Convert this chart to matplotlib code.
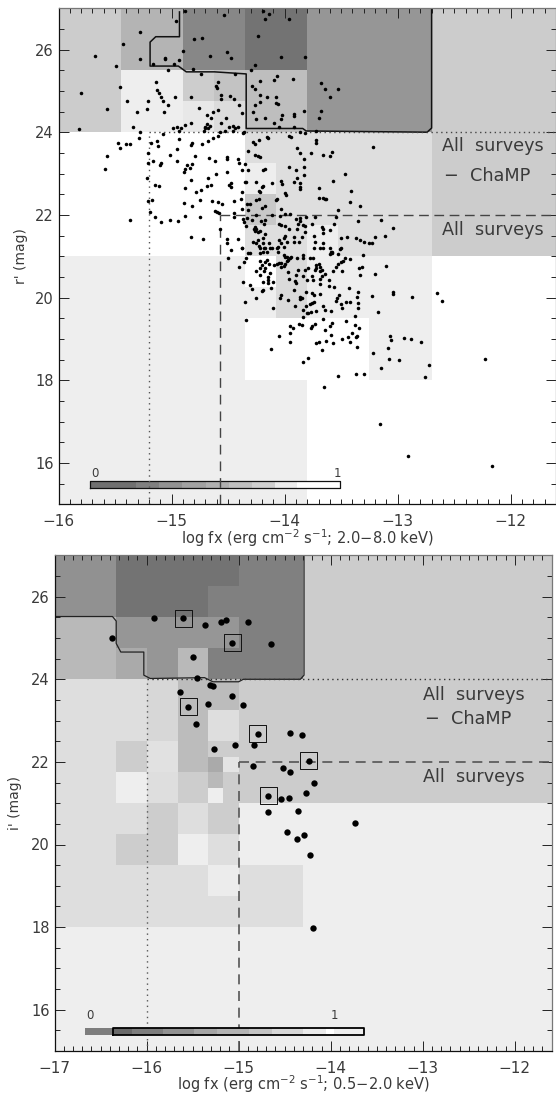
import numpy as np
import matplotlib
matplotlib.use('Agg')
import matplotlib.pyplot as plt
from matplotlib.ticker import MultipleLocator, FixedFormatter, FuncFormatter

plt.rcParams['font.family'] = ['DejaVu Sans']
plt.rcParams['mathtext.default'] = 'regular'
TXT = '#3a3a3a'

# ---------- top panel data ----------
top_xedges = [-16, -15.45, -14.9, -14.625, -14.35, -14.075, -13.8, -13.525, -13.25, -12.7, -11.6]
top_yedges = [15, 18, 19.5, 20.25, 21, 21.75, 22.5, 23.25, 24, 24.75, 25.5, 27]
top_grays = [
    [238, 238, 238, 238, 238, 238, 255, 255, 255, 255],
    [238, 238, 238, 238, 255, 255, 255, 255, 238, 255],
    [238, 238, 238, 238, 238, 218, 238, 238, 238, 255],
    [238, 238, 238, 238, 255, 218, 238, 238, 238, 255],
    [255, 255, 255, 255, 222, 222, 238, 222, 222, 204],
    [255, 255, 255, 255, 200, 222, 222, 222, 222, 204],
    [255, 255, 255, 255, 238, 222, 222, 222, 222, 204],
    [255, 255, 255, 255, 222, 222, 222, 222, 222, 204],
    [204, 238, 232, 220, 190, 190, 150, 150, 150, 204],
    [204, 238, 205, 195, 190, 190, 150, 150, 150, 204],
    [204, 180, 135, 135, 115, 115, 150, 150, 150, 204],
]
top_contour_x = [-14.93, -14.93, -15.14, -15.19, -15.19, -14.94, -14.87, -14.62, -14.34, -14.34, -13.84, -13.81, -12.74, -12.70, -12.70]
top_contour_y = [26.91, 26.31, 26.31, 26.18, 25.60, 25.60, 25.46, 25.46, 25.41, 24.09, 24.09, 24.03, 24.00, 24.10, 27.0]

top_pts_a = [
(-14.96,26.70),(-14.88,26.94),(-14.54,26.84),(-14.19,26.94),(-14.14,26.86),(-14.17,26.75),(-13.96,26.75),(-15.28,26.42),(-15.43,26.13),(-15.68,25.84),
(-15.49,25.59),(-15.28,25.77),(-15.16,25.65),(-15.06,25.79),(-15.06,25.76),(-14.98,25.65),(-14.93,25.75),(-14.90,25.97),(-14.80,26.26),(-14.73,26.28),
(-14.66,25.84),(-14.51,25.93),(-14.47,25.79),(-14.81,25.53),(-15.03,25.50),(-14.24,26.33),(-14.03,25.82),(-14.26,25.63),(-14.30,25.50),(-14.74,25.40),
(-15.14,25.22),(-14.59,25.22),(-14.61,25.12),(-14.60,25.06),(-14.44,25.40),(-14.09,25.26),(-14.07,25.37),(-13.93,25.29),(-14.22,25.23),(-14.29,25.11),
(-14.26,25.05),(-15.46,25.09),(-15.80,24.95),(-15.13,25.02),(-15.11,24.94),(-15.09,24.86),(-15.08,24.76),(-14.97,24.85),(-14.83,24.84),(-14.56,24.90),
(-14.56,24.80),(-14.48,24.88),(-14.45,24.81),(-14.22,24.91),(-14.16,24.86),(-14.08,24.84),(-14.08,24.70),(-14.22,24.74),(-14.26,24.66),(-15.39,24.75),
(-15.21,24.75),(-15.57,24.55),(-15.31,24.48),(-15.22,24.57),(-15.07,24.48),(-15.03,24.65),(-14.76,24.59),(-14.59,24.53),(-14.63,24.50),(-14.69,24.42),
(-14.65,24.35),(-14.40,24.65),(-14.38,24.46),(-14.28,24.50),(-14.06,24.68),(-13.92,24.45),(-13.92,24.38),(-14.02,24.42),(-14.17,24.34),(-14.03,24.31),
(-14.25,24.31),(-14.09,24.23),(-14.05,24.13),(-13.92,24.13),(-15.82,24.07),(-15.34,24.13),(-15.28,24.00),(-14.99,24.09),(-14.95,24.12),(-14.92,24.09),
(-14.93,24.03),(-14.88,24.17),(-14.83,24.22),(-14.70,24.13),(-14.69,24.20),(-14.66,24.15),(-14.68,24.09),(-14.70,24.09),(-14.71,24.04),(-14.56,24.23),
(-14.52,24.35),(-14.49,24.13),(-14.46,24.15),(-14.41,24.13),(-14.44,24.09),(-14.57,24.01),(-14.53,24.03),(-14.46,24.04),(-14.36,24.00),(-15.08,23.95),
(-15.29,23.87),(-14.93,23.84),(-15.47,23.75),(-15.46,23.62),(-15.40,23.72),(-15.37,23.71),(-15.21,23.50),(-15.18,23.73),(-15.13,23.78),(-15.12,23.67),
(-14.95,23.59),(-14.82,23.75),(-14.83,23.69),(-14.73,23.71),(-14.68,23.79),(-14.63,23.85),(-14.59,23.91),(-14.37,23.99),(-14.16,23.89),(-14.15,23.87),
(-13.96,23.92),(-13.94,23.89),(-14.23,23.81),(-14.26,23.71),(-14.32,23.55),(-14.28,23.77),(-13.89,23.61),(-15.01,23.45),(-15.57,23.42),(-15.59,23.10),
(-15.21,23.26),(-15.16,23.30),(-15.10,23.21),(-15.09,23.26),(-14.95,23.30),(-14.86,23.21),(-14.82,23.22),(-14.88,23.10),(-14.84,23.13),(-14.89,23.03),
(-14.79,23.42),(-14.67,23.38),(-14.62,23.31),(-14.51,23.41),(-14.51,23.35),(-14.41,23.34),(-14.40,23.25),(-14.51,23.03),(-14.61,22.99),(-14.68,22.90),
(-14.83,22.84),(-15.22,22.88),(-15.15,22.73),(-15.11,22.71),(-14.65,22.72),(-14.69,22.71),(-14.74,22.59),(-14.78,22.55),(-14.88,22.65),(-14.26,23.45),
(-14.24,23.42),(-14.22,23.41),(-14.35,23.23),(-14.32,23.09),(-14.38,23.09),(-14.17,23.11),(-14.19,23.09),(-13.96,23.17),(-13.90,23.09),(-14.35,22.80),
(-14.34,22.79),(-14.25,22.80),(-14.47,22.76),(-14.49,22.72),(-14.47,22.67),(-14.20,22.68),(-14.11,22.76),(-14.03,22.82),(-14.02,22.75),(-13.92,22.79),
(-13.89,22.88),(-14.23,22.58),(-14.22,22.56),(-14.19,22.70),(-14.38,22.55),(-14.39,22.39),(-14.45,22.34),(-14.00,22.52),(-13.99,22.48),(-15.21,22.33),
(-15.17,22.35),(-14.89,22.29),(-14.82,22.21),(-14.75,22.35),(-14.64,22.33),(-14.59,22.31),(-14.55,22.27),(-14.33,22.26),(-14.31,22.26),(-14.25,22.36),
(-14.23,22.38),(-14.08,22.35),(-14.07,22.38),(-14.62,22.09),(-14.60,22.06),(-14.58,22.04),(-15.19,22.08),(-15.15,21.95),(-15.09,21.83),(-15.01,21.88),
(-14.94,21.85),(-14.88,21.97),(-14.75,21.95),(-15.37,21.88),(-14.45,22.04),(-14.45,21.96),(-14.57,21.67),(-14.51,21.41),(-14.51,21.31),(-14.47,21.15),
(-14.41,21.41),(-14.38,21.19),(-14.50,20.95),(-14.83,21.46),(-14.72,21.42),
]
top_pts_b = [
(-14.38,22.14),(-14.32,22.12),(-14.20,22.16),(-14.17,22.21),(-14.03,22.14),(-13.53,22.12),(-14.37,21.90),(-14.36,21.83),(-14.29,21.88),(-14.25,21.99),
(-14.26,21.71),(-14.27,21.66),(-14.25,21.66),(-14.24,21.59),(-14.26,21.61),(-14.34,21.74),(-14.33,21.92),(-14.21,21.85),(-14.18,21.79),(-14.17,21.88),
(-14.11,21.99),(-14.04,21.98),(-14.00,22.01),(-13.95,22.01),(-13.90,21.90),(-13.86,21.92),(-13.86,21.84),(-13.81,21.96),(-13.73,21.96),(-13.76,21.79),
(-14.05,21.79),(-14.03,21.75),(-14.00,21.74),(-13.96,21.67),(-13.88,21.77),(-13.84,21.75),(-13.82,21.74),(-13.89,21.67),(-13.67,21.71),(-13.60,21.63),
(-13.55,21.96),(-14.17,21.53),(-14.22,21.61),(-14.01,21.43),(-14.00,21.50),(-13.92,21.47),(-13.85,21.47),(-13.82,21.58),(-13.74,21.50),(-13.66,21.55),
(-13.66,21.67),(-14.38,21.21),(-14.28,21.35),(-14.24,21.39),(-14.25,21.31),(-14.23,21.25),(-14.19,21.43),(-14.19,21.31),(-14.17,21.21),(-14.22,21.19),
(-14.18,21.19),(-14.14,21.31),(-14.11,21.21),(-14.13,21.21),(-14.07,21.19),(-14.06,21.23),(-14.03,21.31),(-14.01,21.23),(-14.05,21.39),(-13.98,21.34),
(-13.92,21.34),(-13.87,21.34),(-13.73,21.34),(-13.74,21.19),(-13.69,21.19),(-13.66,21.31),(-13.66,21.19),(-13.60,21.21),(-13.59,21.11),(-13.58,21.11),
(-13.60,21.05),(-13.53,21.05),(-14.32,21.07),(-14.31,21.07),(-14.22,21.07),(-14.19,21.09),(-14.16,21.09),(-14.06,21.11),(-14.01,21.03),(-14.00,20.99),
(-13.98,20.99),(-13.94,20.99),(-13.95,20.95),(-13.97,20.91),(-13.98,20.88),(-13.89,20.96),(-13.84,21.03),(-13.84,20.95),(-13.78,20.96),(-13.75,20.95),
(-14.34,20.95),(-14.36,20.87),(-14.40,20.75),(-14.16,20.91),(-14.17,20.87),(-14.22,20.88),(-14.20,20.79),(-14.17,20.71),(-14.14,20.80),(-14.09,20.79),
(-14.07,20.80),(-14.05,20.83),(-14.03,20.83),(-14.01,20.77),(-14.00,20.80),(-14.03,20.75),(-14.22,20.71),(-14.25,20.63),(-14.13,20.59),(-13.97,20.61),
(-13.88,20.67),(-13.82,20.67),(-13.79,20.71),(-13.73,20.67),(-13.72,20.79),(-13.70,20.80),(-13.69,20.75),(-13.67,20.67),(-13.72,20.71),(-13.69,20.63),
(-13.55,20.75),(-13.53,20.80),(-13.64,20.58),(-14.18,20.64),
]
top_pts_c = [
(-14.37,20.37),(-14.31,20.30),(-14.29,20.21),(-14.19,20.37),(-14.15,20.50),(-14.15,20.42),(-14.15,20.34),(-14.10,20.38),(-14.22,20.55),(-13.96,20.45),
(-13.90,20.55),(-13.91,20.40),(-13.90,20.34),(-13.84,20.52),(-13.80,20.42),(-13.76,20.52),(-13.75,20.42),(-13.69,20.46),(-13.67,20.52),(-13.61,20.42),
(-13.69,20.32),(-13.61,20.28),(-13.56,20.26),(-14.12,20.24),(-14.20,20.16),(-14.19,20.18),(-13.92,20.18),(-13.81,20.13),(-13.76,20.10),(-13.69,20.08),
(-13.74,20.06),(-14.25,20.00),(-14.03,20.05),(-14.04,19.98),(-13.97,19.94),(-13.86,20.02),(-13.86,19.96),(-13.85,19.98),(-13.74,19.90),(-13.76,19.86),
(-13.78,19.84),(-13.81,19.80),(-13.52,20.05),(-13.54,19.98),(-13.55,19.92),(-14.35,19.90),(-13.91,19.80),(-13.84,19.70),(-14.10,19.74),(-13.66,19.80),
(-13.64,19.70),(-13.59,19.67),(-13.72,19.67),(-13.77,19.64),(-13.79,19.62),(-13.80,19.62),(-13.84,19.52),(-14.34,19.46),(-13.66,19.48),(-13.73,19.36),
(-13.87,19.37),(-13.85,19.34),(-13.76,19.30),(-13.77,19.27),(-13.95,19.30),(-13.93,19.26),(-13.58,19.38),(-13.60,19.32),(-13.64,19.21),(-13.59,19.09),
(-13.95,19.15),(-14.05,19.08),(-13.63,18.96),(-13.57,18.89),(-13.95,18.93),(-13.70,18.93),(-13.72,18.89),
]
top_pts_d = [
(-13.33,22.22),(-13.56,21.78),(-13.35,21.84),(-13.15,21.88),(-13.04,21.69),(-13.50,21.43),(-13.45,21.46),(-13.37,21.45),(-13.33,21.38),(-13.30,21.34),
(-13.25,21.31),(-13.23,21.31),(-13.20,21.47),(-13.11,21.49),(-13.51,21.17),(-13.50,21.19),(-13.47,20.96),(-13.48,20.88),(-13.50,20.87),(-13.42,20.93),
(-13.31,21.03),(-13.57,20.64),(-13.49,20.63),(-13.34,20.71),(-13.32,20.73),(-13.10,20.76),(-13.20,20.57),(-13.33,20.55),(-13.58,21.07),
(-13.82,25.81),(-13.68,25.18),(-13.64,25.04),(-13.53,25.04),(-13.60,24.84),(-13.68,24.51),(-13.70,24.34),(-13.83,24.52),(-13.86,24.00),(-13.82,23.97),
(-13.72,24.03),(-13.72,23.81),(-13.72,23.73),(-13.22,23.63),(-13.86,23.49),(-13.77,23.49),(-13.83,23.35),(-13.66,23.45),(-13.60,23.43),(-13.58,23.51),
(-13.83,23.15),(-13.83,22.97),(-13.86,22.77),(-13.86,22.68),(-13.86,22.62),(-13.70,22.64),(-13.47,22.99),(-13.57,22.82),(-13.41,22.58),(-13.70,22.42),
(-13.66,22.40),(-13.64,22.39),(-13.63,22.39),(-13.42,22.31),
(-13.43,20.22),(-13.35,20.14),(-13.23,20.04),(-13.36,20.02),(-13.42,19.88),(-13.35,19.86),(-13.46,19.88),(-13.50,19.84),(-13.35,19.74),(-13.49,19.74),
(-13.38,19.56),(-13.17,19.65),(-13.04,20.14),(-13.04,20.09),(-12.87,20.02),(-12.65,20.11),(-12.61,19.91),(-13.46,19.44),(-13.38,19.34),(-13.34,19.26),
(-13.40,19.13),(-13.37,19.05),(-13.36,19.07),(-13.44,19.04),(-13.49,19.00),(-13.42,18.93),(-13.36,18.80),(-13.07,19.08),(-13.06,18.97),(-12.94,19.01),
(-12.88,19.00),(-12.79,18.93),(-13.22,18.67),(-13.09,18.77),(-13.08,18.52),(-12.99,18.49),(-12.72,18.36),(-13.15,18.29),(-12.76,18.07),(-13.37,18.16),
(-13.30,18.15),(-13.53,18.09),(-13.65,17.84),(-13.16,16.94),(-12.91,16.16),(-12.23,18.52),(-12.17,15.93),(-13.84,18.43),(-13.79,18.54),(-13.67,18.72),
(-14.12,18.75),
]
top_cbar_fracs = [0, 0.186, 0.278, 0.37, 0.465, 0.557, 0.649, 0.74, 0.83, 1]
top_cbar_grays = [112, 128, 146, 162, 176, 192, 208, 236, 255]

# ---------- bottom panel data ----------
bot_xedges = [-17, -16.33, -16, -15.66, -15.33, -15.165, -15, -14.3, -11.6]
bot_yedges = [15, 18, 18.75, 19.5, 20.25, 21, 21.375, 21.75, 22.125, 22.5, 23.25, 24, 24.75, 25.5, 26.25, 27]
bot_grays = [
    [238, 238, 238, 238, 238, 238, 238, 238],
    [222, 222, 222, 222, 222, 222, 222, 238],
    [222, 222, 222, 222, 236, 236, 222, 238],
    [222, 205, 205, 238, 222, 222, 238, 238],
    [222, 222, 205, 222, 205, 205, 238, 238],
    [222, 238, 222, 205, 238, 205, 204, 204],
    [222, 238, 222, 205, 185, 205, 204, 204],
    [222, 205, 225, 188, 170, 228, 204, 204],
    [222, 205, 225, 188, 205, 205, 204, 204],
    [222, 222, 215, 188, 222, 222, 204, 204],
    [222, 222, 215, 188, 188, 188, 204, 204],
    [185, 170, 150, 185, 128, 128, 128, 204],
    [185, 150, 150, 150, 150, 150, 128, 204],
    [145, 115, 115, 115, 128, 128, 128, 204],
    [145, 115, 115, 115, 115, 115, 128, 204],
]
bot_contour_x = [-17, -16.37, -16.33, -16.33, -16.28, -16.03, -16.03, -15.96, -15.37, -15.28, -15.0, -14.95, -14.33, -14.29, -14.29]
bot_contour_y = [25.52, 25.52, 25.41, 24.87, 24.66, 24.66, 24.10, 24.02, 24.04, 23.94, 23.94, 24.0, 24.0, 24.1, 27]
bot_pts = [
(-16.38,25.01),(-15.92,25.48),(-15.60,25.48),(-15.37,25.32),(-15.19,25.39),(-15.14,25.44),(-14.90,25.39),(-15.07,24.89),(-14.65,24.86),(-15.50,24.54),
(-15.45,24.02),(-15.31,23.86),(-15.28,23.83),(-15.64,23.70),(-15.07,23.59),(-15.33,23.40),(-14.95,23.38),(-15.55,23.34),(-15.46,22.91),(-14.79,22.68),
(-14.44,22.69),(-15.27,22.32),(-15.04,22.42),(-14.83,22.40),(-14.84,21.90),(-14.52,21.85),(-14.44,21.76),(-14.68,21.18),(-14.54,21.09),(-14.45,21.13),
(-14.68,20.78),(-14.35,20.80),(-14.31,22.64),(-14.24,22.03),(-14.18,21.48),(-14.27,21.24),(-14.47,20.30),(-14.37,20.13),(-14.29,20.24),(-14.23,19.75),
(-14.19,17.99),(-13.74,20.51),
]
bot_boxed = [(-15.60,25.48),(-15.07,24.89),(-15.55,23.34),(-14.79,22.68),(-14.68,21.18),(-14.24,22.03)]
bot_cbar_fracs = [0, 0.073, 0.197, 0.321, 0.413, 0.540, 0.631, 0.755, 0.846, 0.879, 1]
bot_cbar_grays = [105, 125, 145, 165, 180, 195, 215, 235, 255, 238]

xlim_top = (-16, -11.6)
xlim_bot = (-17, -11.6)
ylim = (15, 27)
W, H = 556, 1094
fig = plt.figure(figsize=(W / 100, H / 100), dpi=100)


def make_axes(l, r, t, b):
    return fig.add_axes([l / W, 1 - b / H, (r - l) / W, (b - t) / H])


def style(ax, xlim, xlabel, ylabel, ylab_x):
    ax.set_xlim(*xlim)
    ax.set_ylim(*ylim)
    ax.xaxis.set_major_locator(MultipleLocator(1))
    ax.xaxis.set_minor_locator(MultipleLocator(0.1))
    ax.yaxis.set_major_locator(MultipleLocator(2))
    ax.yaxis.set_minor_locator(MultipleLocator(0.5))
    ax.xaxis.set_major_formatter(FuncFormatter(lambda v, p: f'\u2212{abs(int(round(v)))}'))
    ax.yaxis.set_major_formatter(FuncFormatter(lambda v, p: f'{int(round(v))}'))
    ax.tick_params(which='major', direction='in', length=7.2, width=0.7, top=True, right=True,
                   labelsize=10.5, labelcolor=TXT, color='#222222')
    ax.tick_params(which='minor', direction='in', length=3.4, width=0.7, top=True, right=True, color='#222222')
    ax.tick_params(axis='x', which='major', pad=7, labelsize=11)
    ax.tick_params(axis='y', which='major', pad=3.5)
    for side, sp in ax.spines.items():
        sp.set_linewidth(0.9)
        sp.set_color('#111111' if side in ('left', 'bottom') else '#777777')
        sp.set_zorder(10)
    ax.set_xlabel(xlabel, fontsize=10.5, color=TXT, labelpad=-1.5)
    ax.set_ylabel(ylabel, fontsize=10, color=TXT)
    ax.yaxis.set_label_coords(ylab_x, 0.5)


# ---------- top panel ----------
ax1 = make_axes(58.5, 556, 8.2, 504.2)
ax1.pcolormesh(top_xedges, top_yedges, np.array(top_grays), cmap='gray', vmin=0, vmax=255, zorder=1)
ax1.plot(top_contour_x, top_contour_y, color='#111111', lw=1.1, zorder=3)
cb_l, cb_r = -15.725, -13.51
cbx = cb_l + np.array(top_cbar_fracs) * (cb_r - cb_l)
ax1.pcolormesh(cbx, [15.38, 15.56], np.array([top_cbar_grays]), cmap='gray', vmin=0, vmax=255, zorder=4)
ax1.plot([cb_l, cb_r, cb_r, cb_l, cb_l], [15.38, 15.38, 15.56, 15.56, 15.38], color='#111111', lw=0.9, zorder=5)
ax1.plot([-15.2, -15.2], [15, 24], color='#555555', lw=1, ls=(0, (1, 3)), zorder=6)
ax1.plot([-15.2, -11.6], [24, 24], color='#444444', lw=1, ls=(0, (1, 2.5)), zorder=3)
ax1.plot([-14.57, -14.57], [15, 22], color='#444444', lw=1, ls=(0, (7, 5)), zorder=6)
ax1.plot([-14.57, -11.6], [22, 22], color='#444444', lw=1, ls=(0, (7, 4)), zorder=3)
pts = np.array(top_pts_a + top_pts_b + top_pts_c + top_pts_d)
ax1.scatter(pts[:, 0], pts[:, 1], s=6.5, color='black', linewidths=0, zorder=7)
ax1.text(-12.61, 23.66, 'All  surveys', fontsize=12.7, color=TXT, va='center', ha='left', zorder=8)
ax1.text(-12.59, 22.94, '\u2212  ChaMP', fontsize=12.7, color=TXT, va='center', ha='left', zorder=8)
ax1.text(-12.61, 21.64, 'All  surveys', fontsize=12.7, color=TXT, va='center', ha='left', zorder=8)
ax1.text(-15.68, 15.75, '0', fontsize=8.5, color=TXT, va='center', ha='center', zorder=8)
ax1.text(-13.53, 15.75, '1', fontsize=8.5, color=TXT, va='center', ha='center', zorder=8)
style(ax1, xlim_top, r'log fx (erg cm$^{-2}$ s$^{-1}$; 2.0$-$8.0 keV)', "r' (mag)", -0.062)

# ---------- bottom panel ----------
ax2 = make_axes(54.5, 551.7, 555.4, 1051)
ax2.pcolormesh(bot_xedges, bot_yedges, np.array(bot_grays), cmap='gray', vmin=0, vmax=255, zorder=1)
ax2.plot(bot_contour_x, bot_contour_y, color='#222222', lw=0.9, zorder=3)
ax2.plot([-16, -16], [15, 24], color='#555555', lw=1, ls=(0, (1, 3)), zorder=2)
ax2.plot([-16, -11.6], [24, 24], color='#333333', lw=1, ls=(0, (1, 2.5)), zorder=3)
ax2.plot([-15, -15], [15, 22], color='#555555', lw=1.2, ls=(0, (6, 4)), zorder=2)
ax2.plot([-15, -11.6], [22, 22], color='#555555', lw=1.2, ls=(0, (6, 4)), zorder=3)
cb_l, cb_r = -16.36, -13.635
cb2x = cb_l + np.array(bot_cbar_fracs) * (cb_r - cb_l)
ax2.pcolormesh([-16.67, cb_l], [15.38, 15.55], [[125]], cmap='gray', vmin=0, vmax=255, zorder=4)
ax2.pcolormesh(cb2x, [15.38, 15.55], np.array([bot_cbar_grays]), cmap='gray', vmin=0, vmax=255, zorder=4)
ax2.plot([cb_l, cb_r, cb_r, cb_l, cb_l], [15.38, 15.38, 15.55, 15.55, 15.38], color='black', lw=1.3, zorder=5)
bp = np.array(bot_pts)
ax2.scatter(bp[:, 0], bp[:, 1], s=21, color='black', linewidths=0, zorder=7)
bb = np.array(bot_boxed)
ax2.scatter(bb[:, 0], bb[:, 1], s=150, marker='s', facecolors='none', edgecolors='#111111', linewidths=0.7, zorder=7)
ax2.text(-13.0, 23.63, 'All  surveys', fontsize=12.7, color=TXT, va='center', ha='left', zorder=8)
ax2.text(-12.98, 23.04, '\u2212  ChaMP', fontsize=12.7, color=TXT, va='center', ha='left', zorder=8)
ax2.text(-13.0, 21.64, 'All  surveys', fontsize=12.7, color=TXT, va='center', ha='left', zorder=8)
ax2.text(-16.62, 15.85, '0', fontsize=8.5, color=TXT, va='center', ha='center', zorder=8)
ax2.text(-13.96, 15.85, '1', fontsize=8.5, color=TXT, va='center', ha='center', zorder=8)
style(ax2, xlim_bot, r'log fx (erg cm$^{-2}$ s$^{-1}$; 0.5$-$2.0 keV)', "i' (mag)", -0.066)

fig.savefig('out.png', dpi=100)
